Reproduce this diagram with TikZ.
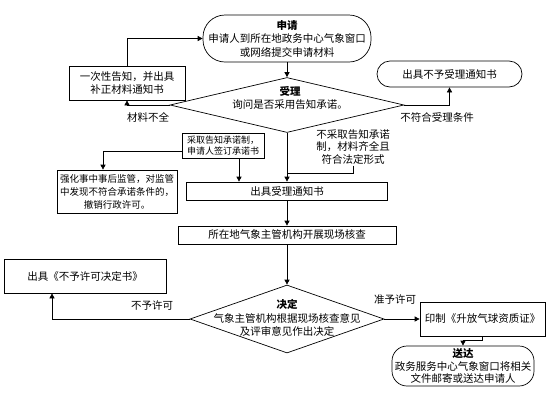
\documentclass[tikz,border=0pt]{standalone}
\usepackage{fontspec}
\setmainfont{Noto Sans CJK SC}
\usetikzlibrary{shapes.geometric,arrows.meta}

\begin{document}
\begin{tikzpicture}[x=1pt, y=-1pt, line width=0.7pt,
  >={Triangle[length=5pt,width=5pt]},
  every node/.style={font=\fontsize{10.5}{13.5}\selectfont, inner sep=1pt, align=center},
  box/.style={draw, rectangle},
  roundbox/.style={draw, rectangle, rounded corners=#1},
  decision/.style={draw, diamond, inner sep=0pt},
  small/.style={font=\fontsize{9}{11.5}\selectfont},
  note/.style={font=\fontsize{10.5}{12.5}\selectfont}]

\useasboundingbox (0,0) rectangle (554,405);

% BLOCK 1 (application and acceptance)
\node[roundbox=22pt, minimum width=168pt, minimum height=47pt] (apply) at (287,38.5)
  {\textbf{申请}\\申请人到所在地政务中心气象窗口\\或网络提交申请材料};
\node[decision, minimum width=234pt, minimum height=55pt] (accept) at (287,105) {};
\node (accepttxt) at (290,98) {\textbf{受理}\\询问是否采用告知承诺。};
\node[box, minimum width=116pt, minimum height=34pt] (supp) at (127,83)
  {一次性告知，并出具\\补正材料通知书};
\node[roundbox=13pt, minimum width=145pt, minimum height=26pt] (reject) at (449.5,74)
  {出具不予受理通知书};

\draw[->] (apply.south) -- (accept.north);
\draw[->] (accept.west) -| (supp.south);
\draw[->] (supp.north) |- (apply.west);
\draw[->] (accept.east) -| (reject.south);
\node (lblmiss) at (148,117) {材料不全};
\node (lblcond) at (437,117) {不符合受理条件};

% BLOCK 2 (promise system)
\node[box, small, minimum width=82pt, minimum height=25pt] (commit) at (223,145.5)
  {采取告知承诺制，\\申请人签订承诺书};
\node[box, font=\fontsize{9.5}{13}\selectfont, minimum width=120pt, minimum height=43pt] (enhance) at (117,191.5)
  {强化事中事后监管，对监管\\中发现不符合承诺条件的，\\撤销行政许可。};
\node[box, minimum width=201pt, minimum height=18pt] (issue) at (287,191) {出具受理通知书};
\node[note] (nlbl) at (353,147) {不采取告知承诺\\制，材料齐全且\\符合法定形式};

\coordinate (turnA) at (103,151);
\coordinate (dropA) at (239,0);
\coordinate (nlink) at (287,173);
\draw[->] (commit.west |- turnA) -- (turnA) -- (enhance.north -| turnA);
\draw[->] (commit.south -| dropA) -- (issue.north -| dropA);
\draw[->] (accept.south) -- (issue.north);
\draw (nlbl.south) |- (nlink);

% BLOCK 3 (check and decision)
\node[box, minimum width=218pt, minimum height=18pt] (check) at (287,235)
  {所在地气象主管机构开展现场核查};
\node[decision, minimum width=194pt, minimum height=68pt] (decide) at (287,319) {};
\node (decidetxt) at (287,318) {\textbf{决定}\\气象主管机构根据现场核查意见\\及评审意见作出决定};
\node[box, minimum width=162pt, minimum height=34pt] (deny) at (85,276) {出具《不予许可决定书》};
\node[box, minimum width=125pt, minimum height=34pt] (print) at (482.5,319) {印制《升放气球资质证》};
\node[roundbox=15pt, minimum width=142pt, minimum height=40pt, font=\fontsize{10.5}{12.5}\selectfont] (deliver) at (463,366)
  {\textbf{送达}\\政务服务中心气象窗口将相关\\文件邮寄或送达申请人};

\coordinate (turnB) at (52,319);
\draw[->] (issue.south) -- (check.north);
\draw[->] (check.south) -- (decide.north);
\draw[->] (decide.west) -| (deny.south -| turnB);
\draw[->] (decide.east) -- (print.west);
\draw[->] (print.south) -- ++(0,4) -| (deliver.north);
\node (lbldeny) at (152,305) {不予许可};
\node (lblgrant) at (395,300) {准予许可};

\end{tikzpicture}
\end{document}
